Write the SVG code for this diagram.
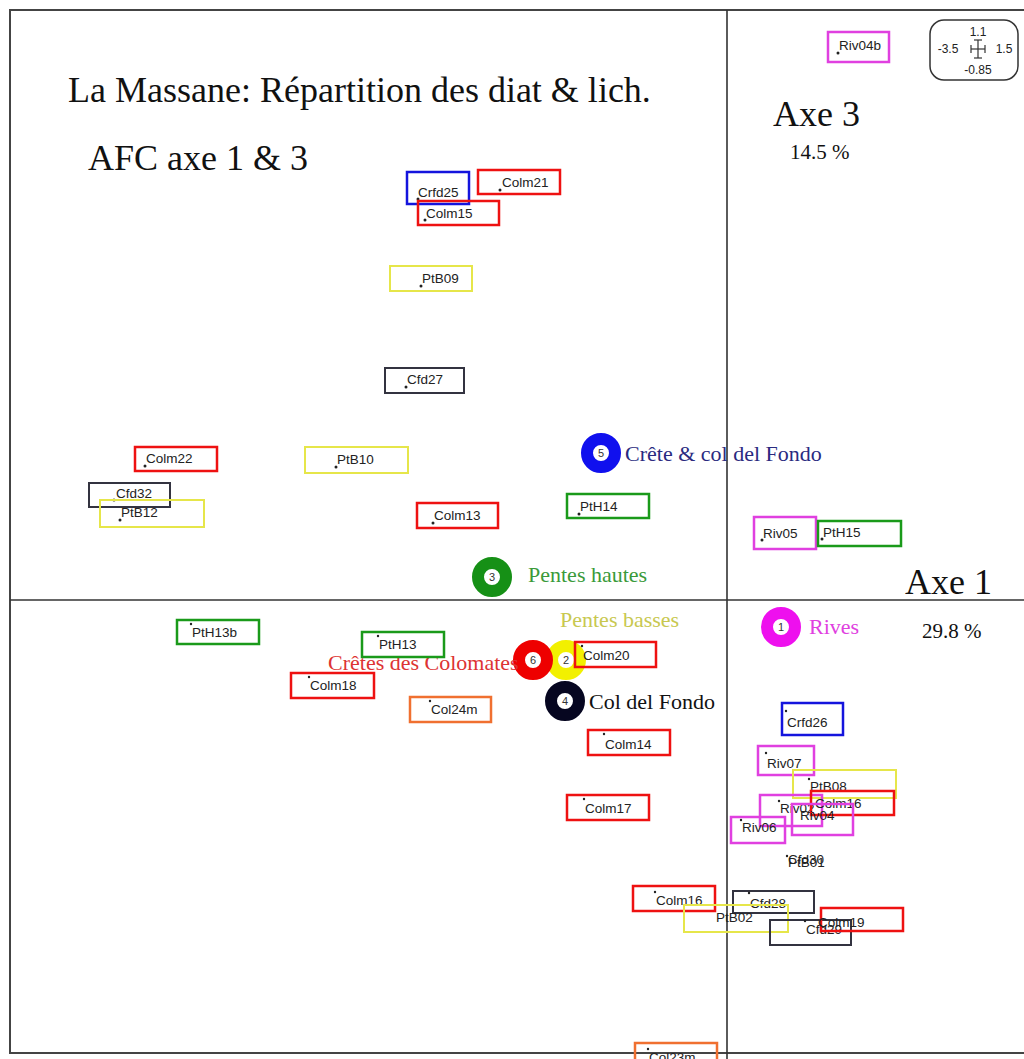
<svg xmlns="http://www.w3.org/2000/svg" width="1024" height="1059" viewBox="0 0 1024 1059">
<style>
.bx{fill:none;stroke-width:2.5}
.r{stroke:#ee1111}.g{stroke:#1a9a1a}.b{stroke:#1414dd}.y{stroke:#e6e64a;stroke-width:2}.k{stroke:#333340;stroke-width:2}.m{stroke:#e040e0}.o{stroke:#f07030}
.lb{font-family:"Liberation Sans",Arial,sans-serif;font-size:13.5px;fill:#222}
.dt{fill:#222}
.ti{font-family:"Liberation Serif","Times New Roman",serif;fill:#111}
.gr{font-family:"Liberation Serif","Times New Roman",serif;font-size:22px}
.ring{fill:#fff;stroke-width:12}
.num{font-family:"Liberation Sans",Arial,sans-serif;font-size:11px;fill:#333;text-anchor:middle}
</style>
<rect width="1024" height="1059" fill="#fff"/>
<g id="frame" stroke="#444" stroke-width="2" fill="none">
<path d="M1024 10 H10 V1053 H1024"/>
</g>
<g id="axes" stroke="#333" stroke-width="1.6">
<line x1="727" y1="10" x2="727" y2="1059"/>
<line x1="10" y1="600" x2="1024" y2="600"/>
</g>
<g id="titles">
<text class="ti" x="68" y="102" font-size="36">La Massane: Répartition des diat &amp; lich.</text>
<text class="ti" x="88" y="170" font-size="36">AFC axe 1 &amp; 3</text>
<text class="ti" x="773" y="126" font-size="36">Axe 3</text>
<text class="ti" x="790" y="159" font-size="21">14.5 %</text>
<text class="ti" x="905" y="594" font-size="36">Axe 1</text>
<text class="ti" x="922" y="638" font-size="21">29.8 %</text>
</g>
<g id="scale">
<rect x="930" y="20" width="88" height="60" rx="14" fill="none" stroke="#333" stroke-width="1.5"/>
<g font-family="Liberation Sans,Arial,sans-serif" font-size="12" fill="#222" text-anchor="middle">
<text x="978" y="36">1.1</text>
<text x="948" y="53">-3.5</text>
<text x="1004" y="53">1.5</text>
<text x="978" y="74">-0.85</text>
</g>
<g stroke="#333" stroke-width="1.2">
<line x1="978" y1="40" x2="978" y2="58"/><line x1="971" y1="49" x2="985" y2="49"/>
<line x1="974" y1="40" x2="982" y2="40"/><line x1="974" y1="58" x2="982" y2="58"/>
<line x1="971" y1="45" x2="971" y2="53"/><line x1="985" y1="45" x2="985" y2="53"/>
</g>
</g>
<g id="groups">
<g id="g5"><circle class="ring" cx="601" cy="453" r="14" stroke="#1010ee"/><text class="num" x="601" y="457">5</text><text class="gr" x="625" y="461" fill="#2a2a80">Crête &amp; col del Fondo</text></g>
<g id="g3"><circle class="ring" cx="492" cy="577" r="14" stroke="#169016"/><text class="num" x="492" y="581" fill="#602080">3</text><text class="gr" x="528" y="582" fill="#3a9a3a">Pentes hautes</text></g>
<g id="g1"><circle class="ring" cx="781" cy="627" r="14" stroke="#ee10ee"/><text class="num" x="781" y="631">1</text><text class="gr" x="809" y="634" fill="#e040e0">Rives</text></g>
<g id="g2"><text class="gr" x="560" y="627" fill="#c8c850">Pentes basses</text><circle class="ring" cx="566" cy="660" r="14" stroke="#f2f000"/><text class="num" x="566" y="664">2</text></g>
<g id="g6"><circle class="ring" cx="533" cy="660" r="14" stroke="#ee0000"/><text class="num" x="533" y="664">6</text><text class="gr" x="328" y="670" fill="#dd3333">Crêtes des Colomates</text></g>
<g id="g4"><circle class="ring" cx="565" cy="701" r="14" stroke="#060620"/><text class="num" x="565" y="705">4</text><text class="gr" x="589" y="709" fill="#111">Col del Fondo</text></g>
</g>
<g id="samples">
<g id="Riv04b"><rect class="bx m" x="828" y="32" width="61" height="30"/><circle class="dt" cx="838" cy="53" r="1.5"/><text class="lb" x="839" y="50">Riv04b</text></g>
<g id="Crfd25"><rect class="bx b" x="407" y="172" width="62" height="32"/><circle class="dt" cx="418" cy="199" r="1.5"/><text class="lb" x="418" y="197">Crfd25</text></g>
<g id="Colm21"><rect class="bx r" x="478" y="170" width="82" height="24"/><circle class="dt" cx="500" cy="190" r="1.5"/><text class="lb" x="502" y="187">Colm21</text></g>
<g id="Colm15"><rect class="bx r" x="418" y="201" width="81" height="24"/><circle class="dt" cx="425" cy="220" r="1.5"/><text class="lb" x="426" y="218">Colm15</text></g>
<g id="PtB09"><rect class="bx y" x="390" y="266" width="82" height="25"/><circle class="dt" cx="421" cy="286" r="1.5"/><text class="lb" x="422" y="283">PtB09</text></g>
<g id="Cfd27"><rect class="bx k" x="385" y="368" width="79" height="25"/><circle class="dt" cx="406" cy="387" r="1.5"/><text class="lb" x="407" y="384">Cfd27</text></g>
<g id="Colm22"><rect class="bx r" x="135" y="447" width="82" height="24"/><circle class="dt" cx="145" cy="466" r="1.5"/><text class="lb" x="146" y="463">Colm22</text></g>
<g id="PtB10"><rect class="bx y" x="305" y="447" width="103" height="26"/><circle class="dt" cx="336" cy="467" r="1.5"/><text class="lb" x="337" y="464">PtB10</text></g>
<g id="Cfd32"><rect class="bx k" x="89" y="483" width="81" height="24"/><circle class="dt" cx="114" cy="500" r="1.5"/><text class="lb" x="116" y="498">Cfd32</text></g>
<g id="PtB12"><rect class="bx y" x="100" y="500" width="104" height="27"/><circle class="dt" cx="120" cy="520" r="1.5"/><text class="lb" x="121" y="517">PtB12</text></g>
<g id="Colm13"><rect class="bx r" x="417" y="503" width="81" height="25"/><circle class="dt" cx="433" cy="523" r="1.5"/><text class="lb" x="434" y="520">Colm13</text></g>
<g id="PtH14"><rect class="bx g" x="567" y="494" width="82" height="24"/><circle class="dt" cx="579" cy="514" r="1.5"/><text class="lb" x="580" y="511">PtH14</text></g>
<g id="Riv05"><rect class="bx m" x="754" y="517" width="62" height="32"/><circle class="dt" cx="762" cy="540" r="1.5"/><text class="lb" x="763" y="538">Riv05</text></g>
<g id="PtH15"><rect class="bx g" x="818" y="521" width="83" height="25"/><circle class="dt" cx="822" cy="539" r="1.5"/><text class="lb" x="823" y="537">PtH15</text></g>
<g id="PtH13b"><rect class="bx g" x="177" y="620" width="82" height="24"/><circle class="dt" cx="191" cy="624" r="1.2"/><text class="lb" x="192" y="637">PtH13b</text></g>
<g id="PtH13"><rect class="bx g" x="362" y="632" width="82" height="25"/><circle class="dt" cx="378" cy="636" r="1.2"/><text class="lb" x="379" y="649">PtH13</text></g>
<g id="Colm20"><rect class="bx r" x="575" y="642" width="81" height="25"/><circle class="dt" cx="582" cy="646" r="1.2"/><text class="lb" x="583" y="660">Colm20</text></g>
<g id="Colm18"><rect class="bx r" x="291" y="673" width="83" height="25"/><circle class="dt" cx="309" cy="677" r="1.2"/><text class="lb" x="310" y="690">Colm18</text></g>
<g id="Col24m"><rect class="bx o" x="410" y="697" width="81" height="25"/><circle class="dt" cx="430" cy="701" r="1.2"/><text class="lb" x="431" y="714">Col24m</text></g>
<g id="Colm14"><rect class="bx r" x="588" y="730" width="82" height="25"/><circle class="dt" cx="604" cy="734" r="1.2"/><text class="lb" x="605" y="749">Colm14</text></g>
<g id="Colm17"><rect class="bx r" x="567" y="795" width="82" height="25"/><circle class="dt" cx="584" cy="799" r="1.2"/><text class="lb" x="585" y="813">Colm17</text></g>
<g id="Crfd26"><rect class="bx b" x="782" y="703" width="61" height="32"/><circle class="dt" cx="786" cy="711" r="1.2"/><text class="lb" x="787" y="727">Crfd26</text></g>
<g id="Riv07"><rect class="bx m" x="758" y="746" width="56" height="29"/><circle class="dt" cx="766" cy="753" r="1.2"/><text class="lb" x="767" y="768">Riv07</text></g>
<g id="PtB08"><rect class="bx y" x="793" y="770" width="103" height="28"/><circle class="dt" cx="809" cy="779" r="1.2"/><text class="lb" x="810" y="791">PtB08</text></g>
<g id="Riv02"><rect class="bx m" x="760" y="795" width="62" height="31"/><circle class="dt" cx="779" cy="801" r="1.2"/><text class="lb" x="780" y="813">Riv02</text></g>
<g id="Colm16b"><rect class="bx r" x="811" y="791" width="83" height="24"/><text class="lb" x="815" y="808">Colm16</text></g>
<g id="Riv04"><rect class="bx m" x="792" y="804" width="61" height="31"/><text class="lb" x="800" y="820">Riv04</text></g>
<g id="Riv06"><rect class="bx m" x="731" y="817" width="54" height="26"/><circle class="dt" cx="741" cy="820" r="1.2"/><text class="lb" x="742" y="832">Riv06</text></g>
<g id="Cfd30"><circle class="dt" cx="787" cy="856" r="1.2"/><text class="lb" x="788" y="864">Cfd30</text></g>
<g id="PtB01"><text class="lb" x="788" y="867">PtB01</text></g>
<g id="Colm16"><rect class="bx r" x="633" y="886" width="82" height="25"/><circle class="dt" cx="655" cy="892" r="1.2"/><text class="lb" x="656" y="905">Colm16</text></g>
<g id="Cfd28"><rect class="bx k" x="733" y="891" width="81" height="22"/><circle class="dt" cx="749" cy="893" r="1.2"/><text class="lb" x="750" y="908">Cfd28</text></g>
<g id="PtB02"><rect class="bx y" x="684" y="905" width="104" height="27"/><text class="lb" x="716" y="922">PtB02</text></g>
<g id="Cfd29"><rect class="bx k" x="770" y="920" width="81" height="25"/><circle class="dt" cx="805" cy="921" r="1.2"/><text class="lb" x="806" y="934">Cfd29</text></g>
<g id="Colm19"><rect class="bx r" x="821" y="908" width="82" height="23"/><text class="lb" x="818" y="927">Colm19</text></g>
<g id="Col23m"><rect class="bx o" x="635" y="1043" width="82" height="20"/><circle class="dt" cx="648" cy="1049" r="1.2"/><text class="lb" x="649" y="1062">Col23m</text></g>
</g>
</svg>
